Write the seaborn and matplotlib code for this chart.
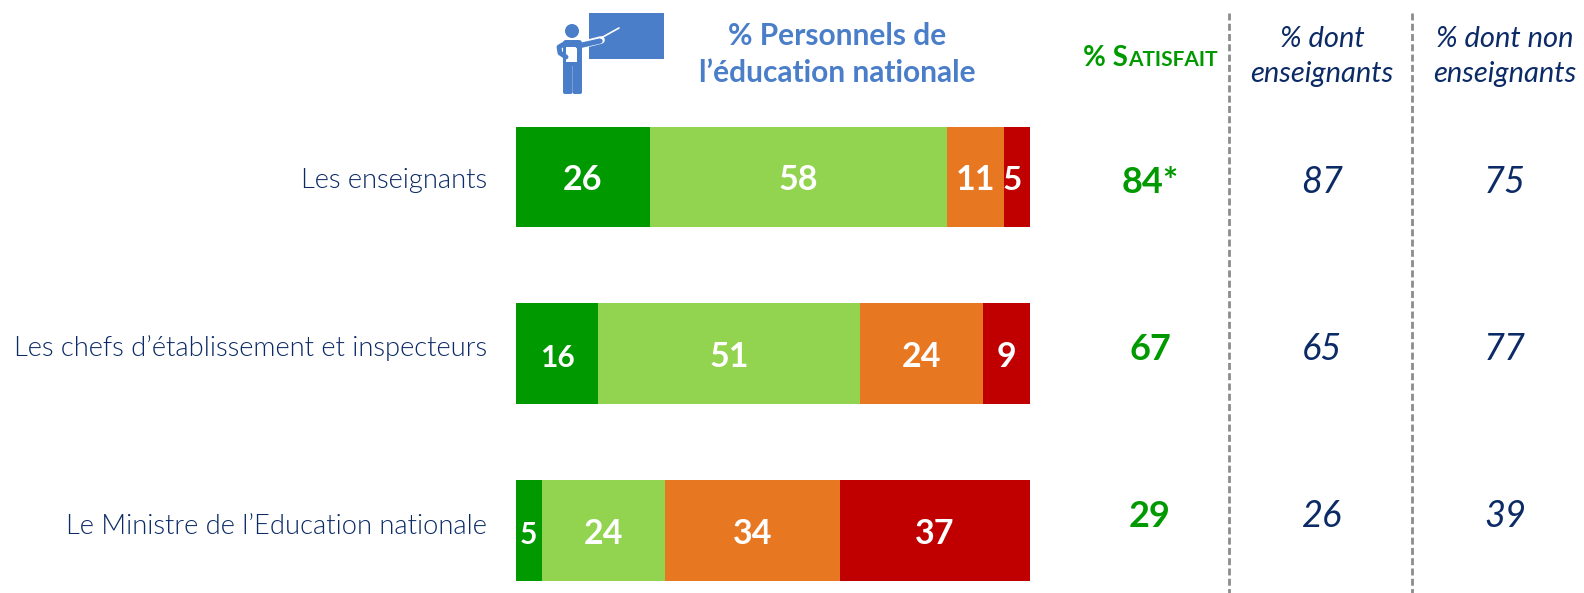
import numpy as np
import pandas as pd
import seaborn as sns
import matplotlib.pyplot as plt
from matplotlib.patches import Rectangle, Circle, FancyBboxPatch
from matplotlib.transforms import ScaledTranslation

categories = ["Les enseignants", "Les chefs d’établissement et inspecteurs", "Le Ministre de l’Education nationale"]
tres_satisfait = [26, 16, 5]
plutot_satisfait = [58, 51, 24]
plutot_pas = [11, 24, 34]
pas_du_tout = [5, 9, 37]
satisfait_labels = ["84*", "67", "29"]
enseignants = [87, 65, 26]
non_enseignants = [75, 77, 39]

series = [tres_satisfait, plutot_satisfait, plutot_pas, pas_du_tout]
colors = ["#009A00", "#92D450", "#E87722", "#C00000"]
label_sizes = [[24.5, 21.5, 21.5], [24.5, 24.5, 24.5], [24.5, 24.5, 24.5], [24, 24.5, 24.5]]

navy = "#0B2A66"
green = "#009A00"
blue = "#4A7EC9"

sns.set_style("white")
plt.rcParams['font.family'] = ['Lato', 'DejaVu Sans']

W, H = 1584, 593
fig = plt.figure(figsize=(W / 100, H / 100), dpi=100)
ax = fig.add_axes([516 / W, 0, 513.5 / W, 1])

left = np.zeros(3)
for vals, col, sizes in zip(series, colors, label_sizes):
    sns.barplot(x=vals, y=categories, left=left, color=col, saturation=1, width=0.57,
                orient="h", ax=ax, edgecolor="none")
    for i, v in enumerate(vals):
        # le 5 de la premiere barre deborde un peu a gauche
        shift = -0.8 if (i == 0 and col == colors[3]) else 0
        ax.text(left[i] + v / 2 + shift, i + 0.074, str(v), ha="center", va="baseline", color="white",
                fontsize=sizes[i], fontweight="bold")
    left = left + np.array(vals)

ax.set_xlim(0, 100)
ax.set_ylim(2.354, -1.002)
ax.set_xlabel("")
ax.set_ylabel("")
ax.set_xticks([])
ax.tick_params(axis="y", length=0, pad=21)
label_dy = [-1, 8, 6]
for lab, dy in zip(ax.get_yticklabels(), label_dy):
    lab.set_fontsize(19.7)
    lab.set_color(navy)
    lab.set_fontweight(300)
    lab.set_transform(lab.get_transform() + ScaledTranslation(0, dy / 100, fig.dpi_scale_trans))
sns.despine(ax=ax, left=True, bottom=True)
ax.patch.set_alpha(0)

# en-tetes, colonnes et icone, en pixels
over = fig.add_axes([0, 0, 1, 1])
over.set_xlim(0, W)
over.set_ylim(H, 0)
over.axis("off")
over.patch.set_alpha(0)

column_y = [193, 360.5, 527]
for i, y in enumerate(column_y):
    over.text(1150, y, satisfait_labels[i], ha="center", va="baseline", color=green, fontsize=26, fontweight="bold")
    over.text(1322, y, str(enseignants[i]), ha="center", va="baseline", color=navy, fontsize=26, style="italic")
    over.text(1505, y, str(non_enseignants[i]), ha="center", va="baseline", color=navy, fontsize=26, style="italic")

over.text(837, 36, "% Personnels de", ha="center", va="center", color=blue, fontsize=21.5, fontweight="bold")
over.text(837, 73, "l’éducation nationale", ha="center", va="center", color=blue, fontsize=21.5, fontweight="bold")
over.text(1128, 66, "% S", ha="right", va="baseline", color=green, fontsize=20, fontweight="bold")
over.text(1128, 66, "ATISFAIT", ha="left", va="baseline", color=green, fontsize=15, fontweight="bold")
over.text(1322, 39, "% dont", ha="center", va="center", color=navy, fontsize=21, style="italic")
over.text(1322, 74, "enseignants", ha="center", va="center", color=navy, fontsize=21, style="italic")
over.text(1505, 39, "% dont non", ha="center", va="center", color=navy, fontsize=21, style="italic")
over.text(1505, 74, "enseignants", ha="center", va="center", color=navy, fontsize=21, style="italic")

for x in [1229, 1412]:
    over.plot([x, x], [13, H], color="#8C8C8C", lw=2, ls=(0, (2.5, 1.2)))

over.add_patch(Rectangle((589, 13), 75, 46, color=blue, lw=0))
over.add_patch(Circle((572, 31), 7, color=blue, lw=0))
over.add_patch(FancyBboxPatch((566, 43), 13, 20, boxstyle="round,pad=3", color=blue, lw=0))
over.add_patch(FancyBboxPatch((565, 62), 5.5, 30, boxstyle="round,pad=2", color=blue, lw=0))
over.add_patch(FancyBboxPatch((574.5, 62), 5.5, 30, boxstyle="round,pad=2", color=blue, lw=0))
over.plot([589, 601], [43, 40], color="white", lw=5.5, solid_capstyle="round")
over.plot([578, 600], [46, 41], color=blue, lw=3.8, solid_capstyle="round")
over.plot([566, 559, 560, 566], [43, 47, 53, 57], color=blue, lw=3.5, solid_capstyle="round")
over.add_patch(Rectangle((566, 47), 11, 15, color="white", lw=0))
over.plot([601, 619], [38, 28], color="white", lw=1.2)

fig.savefig("out.png", dpi=100)
